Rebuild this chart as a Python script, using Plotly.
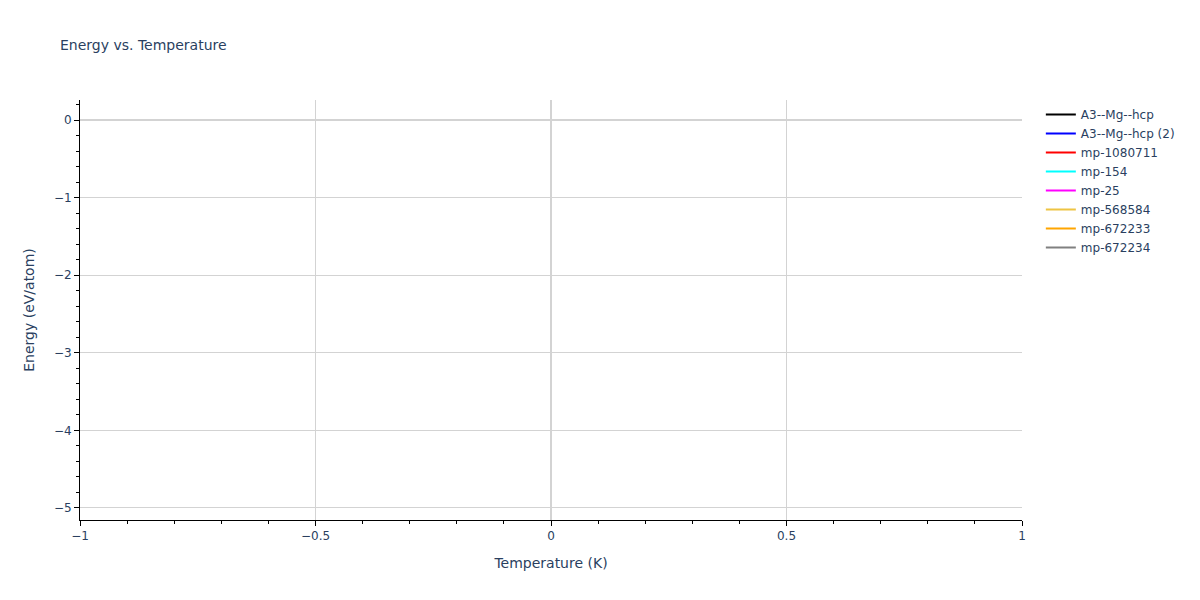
import plotly.graph_objects as go

# One (T, E) point per structure; lines mode with a single point draws nothing
structures = ['A3--Mg--hcp', 'A3--Mg--hcp (2)', 'mp-1080711', 'mp-154',
              'mp-25', 'mp-568584', 'mp-672233', 'mp-672234']
colors = ['black', 'blue', 'red', 'cyan', 'magenta', '#EEC443', 'orange', 'gray']
temperatures = [0]
energies = [[-1.5], [-1.5], [-4.9], [-1.5], [-0.0], [-1.5], [-1.5], [-1.5]]

fig = go.Figure()
for name, color, e in zip(structures, colors, energies):
    fig.add_trace(go.Scatter(
        x=temperatures, y=e, name=name, mode='lines',
        line=dict(color=color, width=2),
    ))

axis_style = dict(
    showline=True, linecolor='black', linewidth=1,
    ticks='outside', tickcolor='black', ticklen=5,
    showgrid=True, gridcolor='lightgray', gridwidth=1,
    zeroline=True, zerolinecolor='lightgray', zerolinewidth=2,
)

fig.update_layout(
    title=dict(text='Energy vs. Temperature', font=dict(size=14)),
    template='plotly_white',
    font=dict(family='DejaVu Sans'),
    width=1200, height=600,
    margin=dict(l=80, r=178, t=100, b=80),
    xaxis=dict(title='Temperature (K)', range=[-1, 1], dtick=0.5,
               minor=dict(ticks='outside', dtick=0.1, ticklen=3, tickcolor='black', showgrid=False),
               **axis_style),
    yaxis=dict(title='Energy (eV/atom)', range=[-5.155, 0.258], dtick=1,
               minor=dict(ticks='outside', dtick=0.2, ticklen=3, tickcolor='black', showgrid=False),
               **axis_style),
)

fig.write_html("out.html", config={'displayModeBar': False},
               post_script="document.body.style.margin = '0';")
